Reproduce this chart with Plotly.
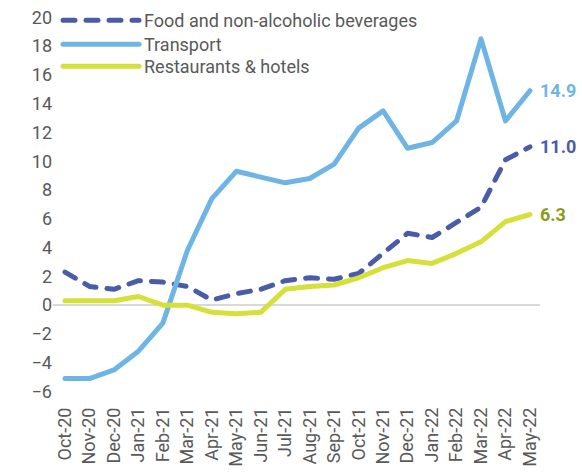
import plotly.graph_objects as go

months = ["Oct-20", "Nov-20", "Dec-20", "Jan-21", "Feb-21", "Mar-21", "Apr-21", "May-21",
          "Jun-21", "Jul-21", "Aug-21", "Sep-21", "Oct-21", "Nov-21", "Dec-21", "Jan-22",
          "Feb-22", "Mar-22", "Apr-22", "May-22"]
food = [2.3, 1.3, 1.1, 1.7, 1.6, 1.3, 0.35, 0.8, 1.1, 1.7, 1.9, 1.8, 2.2, 3.6, 5.0, 4.7,
        5.7, 6.8, 10.1, 11.0]
transport = [-5.1, -5.1, -4.5, -3.2, -1.25, 3.8, 7.4, 9.3, 8.9, 8.5, 8.8, 9.8, 12.3, 13.5,
             10.9, 11.3, 12.8, 18.5, 12.8, 14.9]
restaurants = [0.3, 0.3, 0.3, 0.6, 0.0, 0.0, -0.5, -0.6, -0.5, 1.1, 1.3, 1.4, 1.9, 2.6,
               3.1, 2.9, 3.6, 4.4, 5.8, 6.3]
y_ticks = list(range(-6, 21, 2))

C_FOOD = "#4A5CA8"
C_TRANS = "#6EB5E6"
C_REST = "#D6E03A"
C_REST_LABEL = "#8C9B1E"
TXT = "#595959"
FONT = "Roboto"

fig = go.Figure()
fig.add_trace(go.Scatter(x=months, y=food, mode="lines", name="Food and non-alcoholic beverages",
                         line=dict(color=C_FOOD, width=5, dash="12px,11px"), legend="legend"))
fig.add_trace(go.Scatter(x=months, y=transport, mode="lines", name="Transport",
                         line=dict(color=C_TRANS, width=5), legend="legend2"))
fig.add_trace(go.Scatter(x=months, y=restaurants, mode="lines", name="Restaurants & hotels",
                         line=dict(color=C_REST, width=5), legend="legend3"))

for vals, col, txt in [(transport, C_TRANS, "14.9"), (food, C_FOOD, "11.0"),
                       (restaurants, C_REST_LABEL, "6.3")]:
    fig.add_annotation(x=months[-1], y=vals[-1], text="<b>%s</b>" % txt, showarrow=False,
                       xanchor="left", yanchor="middle", xshift=8,
                       font=dict(family=FONT, size=18, color=col))

def leg(yv):
    return dict(x=0.0103, y=yv, xanchor="left", yanchor="top", bgcolor="rgba(0,0,0,0)",
                font=dict(family=FONT, size=18, color=TXT), itemwidth=76)

fig.update_layout(
    width=582, height=476,
    margin=dict(l=53, r=42, t=13, b=73, autoexpand=False),
    paper_bgcolor="white", plot_bgcolor="white",
    font=dict(family=FONT, size=18, color=TXT),
    showlegend=True,
    legend=leg(1.0282), legend2=leg(0.9667), legend3=leg(0.9103),
    xaxis=dict(type="category", range=[-0.49, 19.41], showgrid=False, zeroline=False,
               showline=False, ticks="", tickangle=-90, automargin=False,
               tickfont=dict(family=FONT, size=18, color=TXT)),
    yaxis=dict(range=[-6.8, 20.3], tickvals=y_ticks, showgrid=False, zeroline=True,
               zerolinecolor="#D9D9D9", zerolinewidth=2, showline=False, ticks="",
               automargin=False,
               tickfont=dict(family=FONT, size=18, color=TXT)),
)

post = ("document.body.style.margin='0';"
        "var s=document.createElement('style');"
        "s.textContent='path.js-line{stroke-linecap:round;stroke-linejoin:round;}';"
        "document.head.appendChild(s);")
fig.write_html("out.html", post_script=post, config={"displayModeBar": False})
